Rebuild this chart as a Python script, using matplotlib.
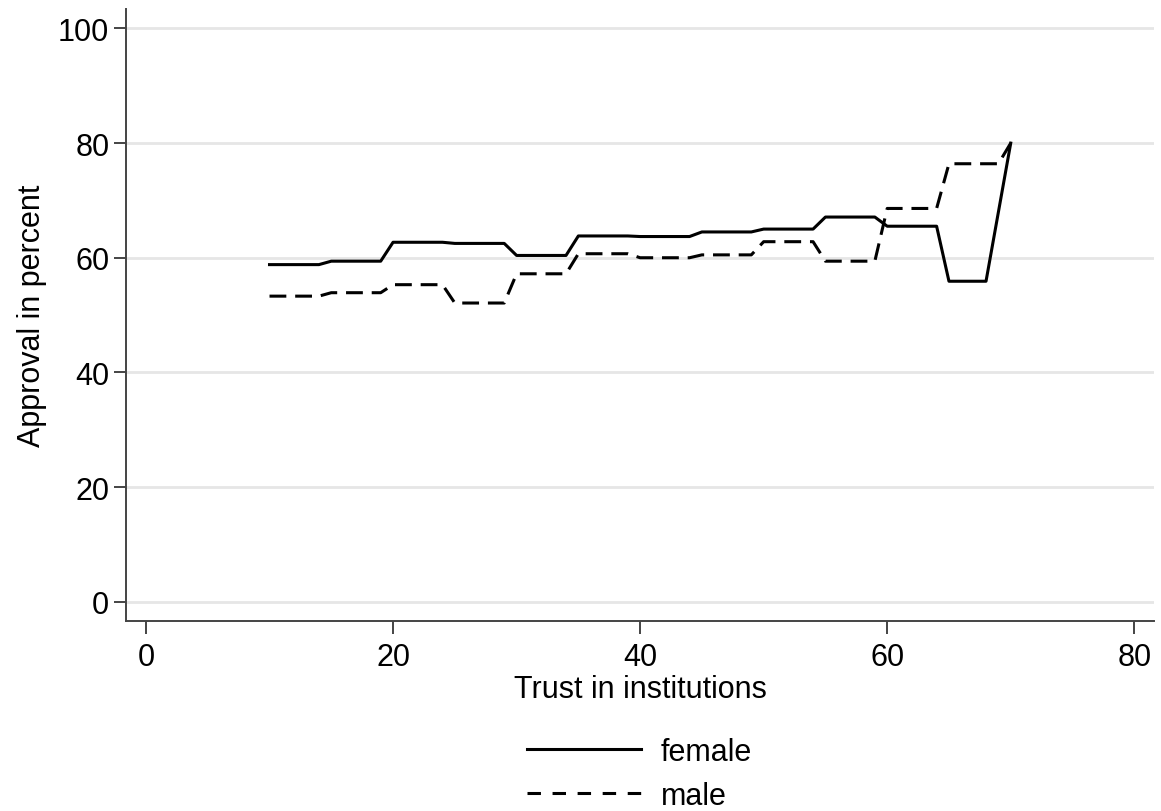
import numpy as np
import matplotlib
matplotlib.use("Agg")
import matplotlib.pyplot as plt
from matplotlib.lines import Line2D

plt.rcParams['font.family'] = ['Liberation Sans', 'DejaVu Sans']

# trust in institutions (x) and approval in percent (y)
female_x = [10, 14, 15, 19, 20, 24, 25, 29, 30, 34, 35, 39, 40, 44, 45, 49, 50, 54, 55, 59, 60, 64, 65, 68, 70]
female_y = [58.8, 58.8, 59.4, 59.4, 62.7, 62.7, 62.5, 62.5, 60.4, 60.4, 63.8, 63.8, 63.7, 63.7,
            64.5, 64.5, 65.0, 65.0, 67.1, 67.1, 65.5, 65.5, 55.9, 55.9, 80.0]

male_x = [10, 14, 15, 19, 20, 24, 25, 29, 30, 34, 35, 39, 40, 44, 45, 49, 50, 54, 55, 59, 60, 64, 65, 69, 70]
male_y = [53.3, 53.3, 53.9, 53.9, 55.3, 55.3, 52.1, 52.1, 57.2, 57.2, 60.7, 60.7, 60.0, 60.0,
          60.5, 60.5, 62.8, 62.8, 59.4, 59.4, 68.6, 68.6, 76.4, 76.4, 80.0]

xticks = [0, 20, 40, 60, 80]
yticks = [0, 20, 40, 60, 80, 100]

fig = plt.figure(figsize=(11.61, 8.12), dpi=100)
ax = fig.add_axes([0.1085, 0.2344, 0.8855, 0.7533])

for y in yticks:
    ax.axhline(y, color='#e6e6e6', lw=2, zorder=0)

ax.plot(female_x, female_y, color='black', lw=2.2)
ax.plot(male_x, male_y, color='black', lw=2.2, dashes=(5.5, 2.9))

ax.set_xlim(-1.62, 81.6)
ax.set_ylim(-3.32, 103.4)
ax.set_xticks(xticks)
ax.set_yticks(yticks)
ax.tick_params(direction='out', length=9, width=1.4, color='#444444', labelsize=22)
ax.tick_params(axis='x', pad=6)
ax.tick_params(axis='y', pad=3)
for s in ['top', 'right']:
    ax.spines[s].set_visible(False)
for s in ['left', 'bottom']:
    ax.spines[s].set_color('#444444')
    ax.spines[s].set_linewidth(1.4)

ax.set_xlabel('Trust in institutions', fontsize=22, labelpad=2)
ax.set_ylabel('Approval in percent', fontsize=22, labelpad=8)

handles = [Line2D([], [], color='black', lw=2.2),
           Line2D([], [], color='black', lw=2.2, dashes=(4.4, 3.8))]
fig.legend(handles, ['female', 'male'], loc='upper center', bbox_to_anchor=(0.551, 0.11),
           ncol=1, frameon=False, borderpad=0, fontsize=22, handlelength=3.73,
           handletextpad=0.65, labelspacing=0.45)

plt.savefig('out.png', dpi=100)
